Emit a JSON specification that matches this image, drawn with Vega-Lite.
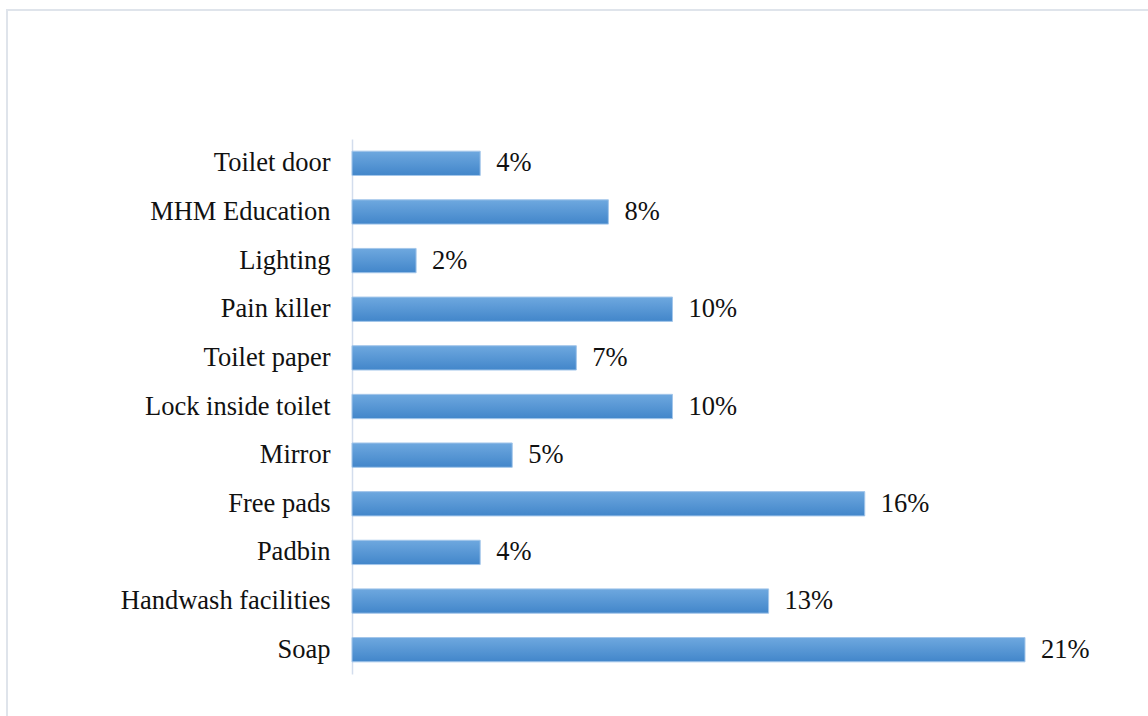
{
  "$schema": "https://vega.github.io/schema/vega-lite/v6.json",
  "autosize": {"type": "none"},
  "padding": {"left": 7, "top": 10, "right": 0, "bottom": 0},
  "width": 1150,
  "height": 720,
  "background": "white",
  "config": {
    "view": {"stroke": "#dfe4eb", "strokeWidth": 2},
    "font": "Liberation Serif"
  },
  "data": {
    "values": [
      {"item": "Toilet door", "share": 0.04},
      {"item": "MHM Education", "share": 0.08},
      {"item": "Lighting", "share": 0.02},
      {"item": "Pain killer", "share": 0.10},
      {"item": "Toilet paper", "share": 0.07},
      {"item": "Lock inside toilet", "share": 0.10},
      {"item": "Mirror", "share": 0.05},
      {"item": "Free pads", "share": 0.16},
      {"item": "Padbin", "share": 0.04},
      {"item": "Handwash facilities", "share": 0.13},
      {"item": "Soap", "share": 0.21}
    ]
  },
  "encoding": {
    "y": {
      "field": "item",
      "type": "nominal",
      "sort": null,
      "scale": {"range": [129, 664], "paddingInner": 0.5, "paddingOuter": 0.25},
      "axis": {
        "title": null,
        "offset": -345,
        "ticks": false,
        "labelPadding": 22,
        "labelFont": "Liberation Serif",
        "labelFontSize": 26.5,
        "labelColor": "#111111",
        "labelLimit": 400,
        "labelBaseline": "middle",
        "domainColor": "#d3dded",
        "domainWidth": 1.5
      }
    },
    "x": {
      "field": "share",
      "type": "quantitative",
      "scale": {"domain": [0, 0.21], "range": [345, 1018], "nice": false, "zero": true},
      "axis": null
    }
  },
  "layer": [
    {
      "mark": {
        "type": "bar",
        "color": {
          "gradient": "linear",
          "x1": 0, "y1": 0, "x2": 0, "y2": 1,
          "stops": [
            {"offset": 0, "color": "#6ea8df"},
            {"offset": 1, "color": "#4286ca"}
          ]
        },
        "stroke": "#a3c6ea",
        "strokeWidth": 1
      }
    },
    {
      "mark": {
        "type": "text",
        "align": "left",
        "baseline": "middle",
        "dx": 16,
        "font": "Liberation Serif",
        "fontSize": 26.5,
        "color": "#111111"
      },
      "encoding": {
        "text": {"field": "share", "type": "quantitative", "format": ".0%"}
      }
    }
  ]
}
